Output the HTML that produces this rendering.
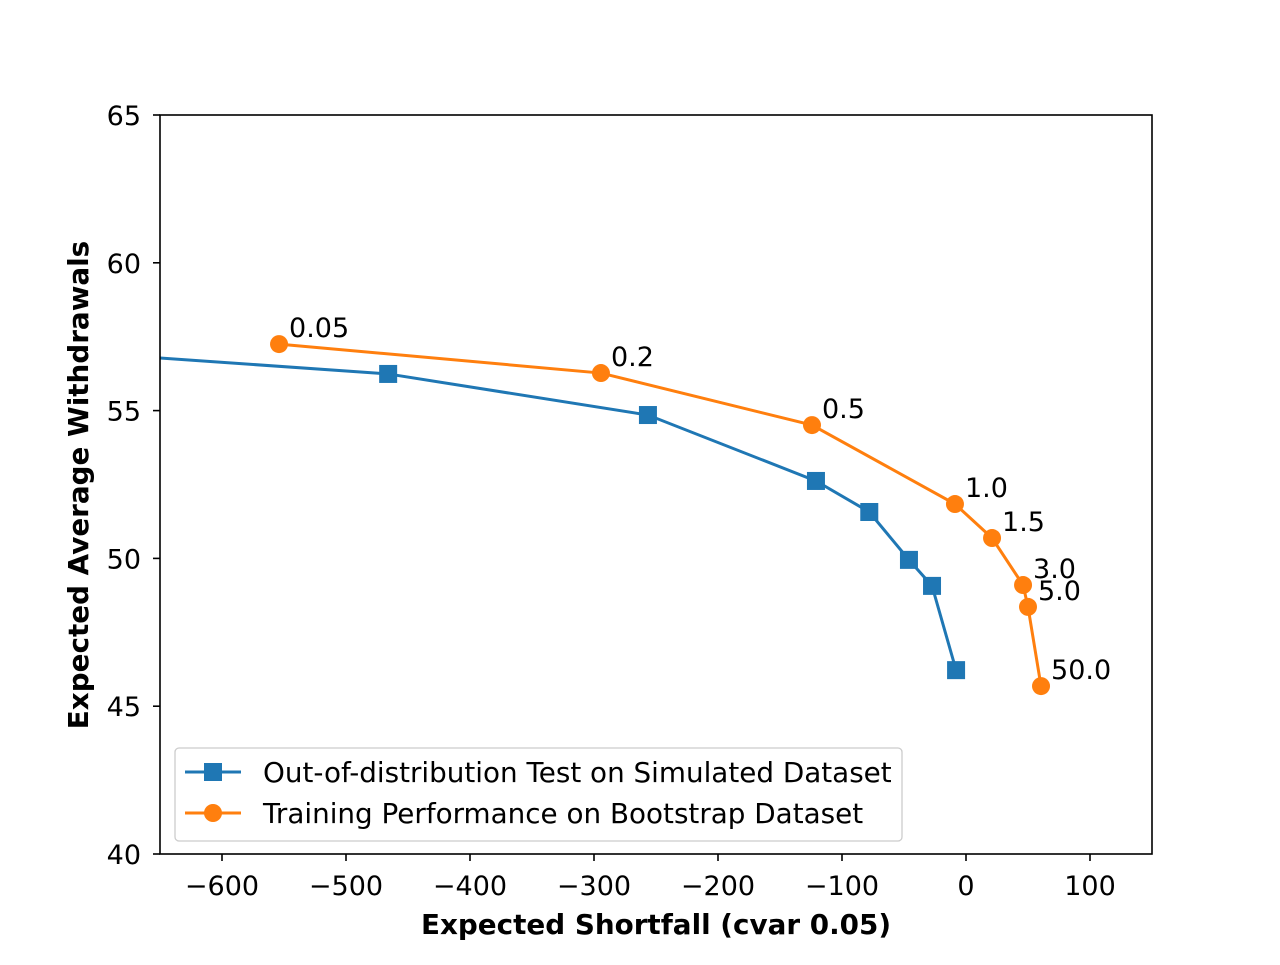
<!DOCTYPE html>
<html><head><meta charset="utf-8"><style>
body{margin:0;background:#fff}
text{font-family:"DejaVu Sans",sans-serif}
</style></head><body>
<svg id="chart" width="1280" height="960" xmlns="http://www.w3.org/2000/svg">
<defs><clipPath id="clip"><rect x="160" y="115" width="992" height="739"/></clipPath></defs>
<rect width="1280" height="960" fill="#fff"/>
<g id="ticks"></g>
<g id="series" clip-path="url(#clip)"></g>
<g id="labels"></g>
<rect x="160" y="115" width="992" height="739" fill="none" stroke="#000" stroke-width="1.6"/>
<text x="656" y="934" text-anchor="middle" font-size="27.8" font-weight="bold">Expected Shortfall (cvar 0.05)</text>
<text transform="translate(88,485) rotate(-90)" text-anchor="middle" font-size="27.8" font-weight="bold">Expected Average Withdrawals</text>
<g>
<rect x="175" y="748" width="727" height="93" rx="4" fill="#fff" fill-opacity="0.8" stroke="#ccc" stroke-width="1.3"/>
<g>
<line x1="185" y1="772" x2="241" y2="772" stroke="#1f77b4" stroke-width="3"/>
<rect x="204" y="763" width="18" height="18" fill="#1f77b4"/>
<text x="263" y="782" font-size="27.8">Out-of-distribution Test on Simulated Dataset</text></g>
<g>
<line x1="185" y1="813" x2="241" y2="813" stroke="#ff7f0e" stroke-width="3"/>
<circle cx="213" cy="813" r="9" fill="#ff7f0e"/>
<text x="263" y="823" font-size="27.8">Training Performance on Bootstrap Dataset</text></g>
</g>
</svg>
<script>
const xTicks=[-600,-500,-400,-300,-200,-100,0,100];
const yTicks=[40,45,50,55,60,65];
const oodX=[-800,-466,-256.5,-121,-78,-46,-27.4,-8];
const oodY=[57.22,56.24,54.85,52.62,51.57,49.95,49.07,46.22];
const trainX=[-554,-294.4,-124.2,-8.9,21,46,50,60.5];
const trainY=[57.25,56.27,54.51,51.84,50.69,49.1,48.36,45.68];
const trainLabels=["0.05","0.2","0.5","1.0","1.5","3.0","5.0","50.0"];
const NS="http://www.w3.org/2000/svg";
const sx=v=>160+(v+650)*992/800;
const sy=v=>854-(v-40)*739/25;
function mk(tag,attrs,parent){const e=document.createElementNS(NS,tag);for(const k in attrs)e.setAttribute(k,attrs[k]);parent.appendChild(e);return e;}
const tg=document.getElementById('ticks');
xTicks.forEach(t=>{
 const l=mk('line',{x1:sx(t),x2:sx(t),y1:854,y2:861,stroke:'#000','stroke-width':1.6},tg);
 
 
 const tx=mk('text',{x:sx(t),y:895,'text-anchor':'middle','font-size':27},tg);
 tx.textContent=t<0?'\u2212'+Math.abs(t):String(t);
 
 
});
yTicks.forEach(t=>{
 const l=mk('line',{x1:153,x2:160,y1:sy(t),y2:sy(t),stroke:'#000','stroke-width':1.6},tg);
 
 
 const tx=mk('text',{x:141,y:sy(t)+10,'text-anchor':'end','font-size':27},tg);
 tx.textContent=t;
 
 
});
const sg=document.getElementById('series');
const p1=mk('polyline',{points:oodX.map((x,i)=>sx(x)+','+sy(oodY[i])).join(' '),fill:'none',stroke:'#1f77b4','stroke-width':3},sg);


oodX.forEach((x,i)=>{
 const r=mk('rect',{x:sx(x)-9,y:sy(oodY[i])-9,width:18,height:18,fill:'#1f77b4'},sg);
 
 
});
const p2=mk('polyline',{points:trainX.map((x,i)=>sx(x)+','+sy(trainY[i])).join(' '),fill:'none',stroke:'#ff7f0e','stroke-width':3},sg);


const lg=document.getElementById('labels');
trainX.forEach((x,i)=>{
 const c=mk('circle',{cx:sx(x),cy:sy(trainY[i]),r:9,fill:'#ff7f0e'},sg);
 
 
 const t=mk('text',{x:sx(x)+10,y:sy(trainY[i])-7,'font-size':27},lg);
 t.textContent=trainLabels[i];
 
 
});
</script>
</body></html>
